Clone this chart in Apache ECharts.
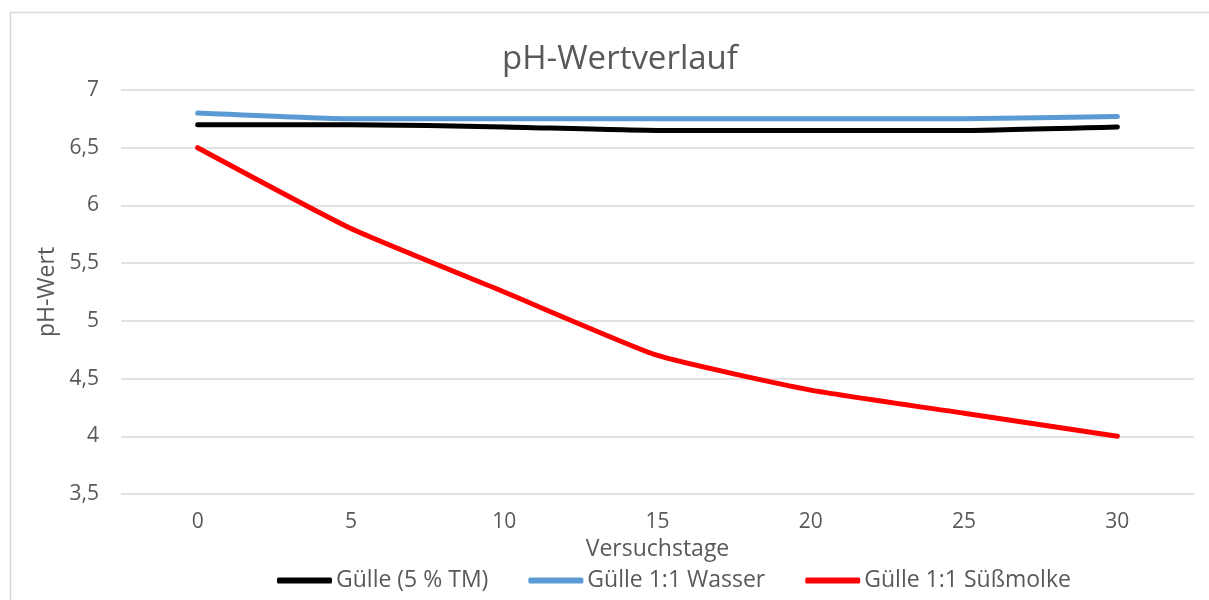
<!DOCTYPE html>
<html>
<head>
<meta charset="utf-8">
<script src="https://cdn.jsdelivr.net/npm/echarts@6/dist/echarts.min.js"></script>
<style>
  html, body { margin: 0; padding: 0; background: #fff; }
  #chart { width: 1209px; height: 600px; }
</style>
</head>
<body>
<div id="chart"></div>
<script>
// Versuchstage
const days = ["0", "5", "10", "15", "20", "25", "30"];
// pH values
const guelle = [6.7, 6.7, 6.68, 6.65, 6.65, 6.65, 6.68];
const wasser = [6.8, 6.75, 6.75, 6.75, 6.75, 6.75, 6.77];
const suessmolke = [6.5, 5.8, 5.25, 4.7, 4.4, 4.2, 4.0];

const font = "Open Sans";
const textColor = "#595959";

const chart = echarts.init(document.getElementById("chart"));
const line = (name, data, color) => ({
  name: name,
  type: "line",
  data: data,
  smooth: 0.15,
  symbol: "none",
  lineStyle: { color: color, width: 5, cap: "round" },
  itemStyle: { color: color },
});

chart.setOption({
  animation: false,
  textStyle: { fontFamily: font },
  graphic: [{
    type: "rect",
    shape: { x: 10.5, y: 12.5, width: 1300, height: 700 },
    style: { fill: "none", stroke: "#d9d9d9", lineWidth: 1.5 },
    silent: true,
  }],
  title: {
    text: "pH-Wertverlauf",
    left: 497,
    top: 38,
    textStyle: { fontFamily: font, fontSize: 33, fontWeight: "normal", color: textColor },
  },
  legend: {
    bottom: 3,
    left: 272,
    itemWidth: 55,
    itemHeight: 6,
    itemGap: 40,
    icon: "roundRect",
    textStyle: { fontFamily: font, fontSize: 23, color: textColor, padding: [0, 0, 0, -1] },
    data: ["Gülle (5 % TM)", "Gülle 1:1 Wasser", "Gülle 1:1 Süßmolke"],
  },
  grid: { left: 121, right: 15, top: 90, bottom: 106 },
  xAxis: {
    type: "category",
    data: days,
    boundaryGap: true,
    name: "Versuchstage",
    nameLocation: "middle",
    nameGap: 42,
    nameTextStyle: { fontFamily: font, fontSize: 23, color: textColor },
    axisLine: { show: false },
    axisTick: { show: false },
    axisLabel: { fontFamily: font, fontSize: 21, color: textColor, margin: 18 },
  },
  yAxis: {
    type: "value",
    min: 3.5,
    max: 7,
    interval: 0.5,
    name: "pH-Wert",
    nameLocation: "middle",
    nameGap: 62,
    nameTextStyle: { fontFamily: font, fontSize: 23, color: textColor },
    axisLine: { show: false },
    axisTick: { show: false },
    axisLabel: {
      fontFamily: font, fontSize: 21, color: textColor, margin: 22,
      formatter: v => String(v).replace(".", ","),
    },
    splitLine: { lineStyle: { color: "#d9d9d9", width: 1.5 } },
  },
  series: [
    line("Gülle (5 % TM)", guelle, "#000000"),
    line("Gülle 1:1 Wasser", wasser, "#5b9bd5"),
    line("Gülle 1:1 Süßmolke", suessmolke, "#ff0000"),
  ],
});
</script>
</body>
</html>
